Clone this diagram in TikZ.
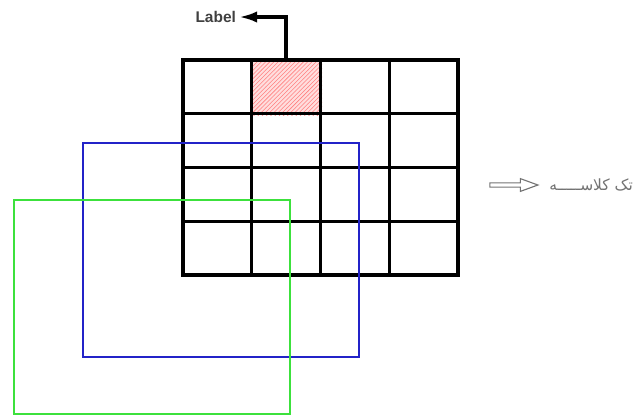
\documentclass[tikz,border=0pt]{standalone}
\usepackage{fontspec}
\setmainfont{Liberation Sans}
\newfontfamily\farsifont[Script=Arabic]{DejaVu Sans}
\TeXXeTstate=1
\usetikzlibrary{positioning,arrows.meta,shapes.arrows,patterns,backgrounds}
\definecolor{winblue}{RGB}{35,35,200}
\definecolor{wingreen}{RGB}{60,225,60}

\begin{document}
\begin{tikzpicture}[
    x=0.025cm, y=-0.025cm,
    cell/.style={draw, line width=2.2pt, inner sep=0pt,
                 minimum width=1.71875cm, minimum height=1.34375cm},
    win/.style={draw, line width=2pt, inner sep=0pt,
                minimum width=6.9cm, minimum height=5.35cm},
    lblarr/.style={-{Latex[length=4.5mm,width=2.8mm]}, line width=2.4pt},
    note/.style={font=\fontsize{11}{13}\selectfont, text=black!55}
  ]
  \useasboundingbox (0,0) rectangle (638,416);
  % 4x4 grid
  \foreach \r in {1,...,4}
    \foreach \c in {1,...,4}
      \node[cell] (c-\r-\c) at ({183+68.75*(\c-0.5)}, {60+53.75*(\r-0.5)}) {};
  \begin{scope}[on background layer]
    \fill[red!13, postaction={pattern=north east lines, pattern color=red!50}]
      (c-1-2.north west) rectangle (c-1-2.south east);
  \end{scope}
  % sliding windows
  \node[win, draw=winblue]  (bwin) at (221,250) {};
  \node[win, draw=wingreen] (gwin) at (152,307) {};
  % label
  \node[anchor=east, inner sep=2pt, font=\bfseries\fontsize{11}{12}\selectfont,
        text=black!75] (lab) at (239,17) {Label};
  \draw[lblarr] (c-1-2.north) |- (lab.east);
  % output
  \node[single arrow, draw=black!55, line width=0.8pt, inner sep=1pt,
        minimum height=1.2cm, minimum width=0.32cm,
        single arrow head extend=0.1cm, single arrow tip angle=40] (sarr) at (511,185) {};
  \node[note, right=0.12cm of sarr] (out) {\farsifont\beginR تک کلاســـــه\endR};
\end{tikzpicture}
\end{document}
